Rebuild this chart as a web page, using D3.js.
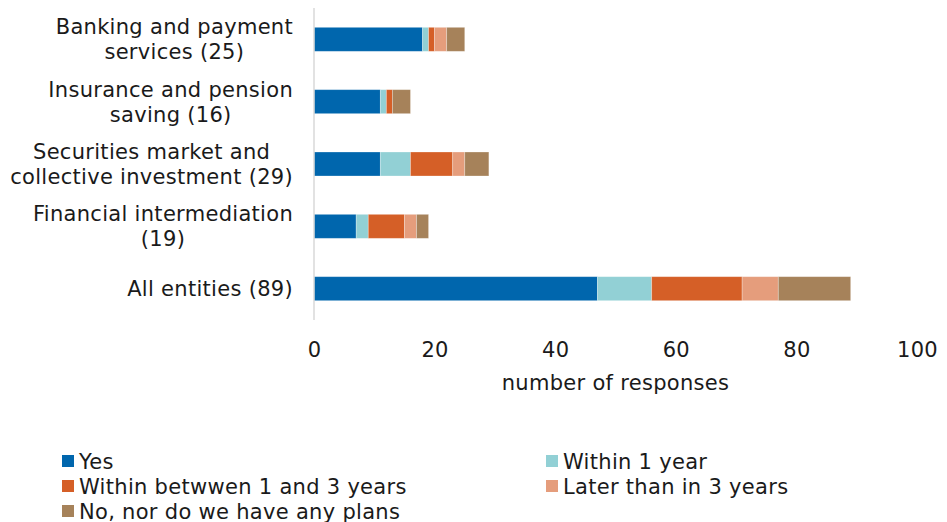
<!DOCTYPE html>
<html>
<head>
<meta charset="utf-8">
<script src="https://cdn.jsdelivr.net/npm/d3@7"></script>
<style>
  html, body { margin: 0; padding: 0; background: #fff; }
  svg text { font-family: "DejaVu Sans", Verdana, sans-serif; fill: #1a1a1a; letter-spacing: 0.3px; }
</style>
</head>
<body>
<svg id="chart" width="947" height="522"></svg>
<script>
// Survey responses by sector
const categories = [
  ["Banking and payment", "services (25)"],
  ["Insurance and pension", "saving (16)"],
  ["Securities market and", "collective investment (29)"],
  ["Financial intermediation", "(19)"],
  ["All entities (89)"]
];
const seriesNames = ["Yes", "Within 1 year", "Within betwwen 1 and 3 years", "Later than in 3 years", "No, nor do we have any plans"];
const yes        = [18, 11, 11, 7, 47];
const within1    = [1, 1, 5, 2, 9];
const within1to3 = [1, 1, 7, 6, 15];
const later3     = [2, 0, 2, 2, 6];
const noPlans    = [3, 3, 4, 2, 12];
const xTicks = [0, 20, 40, 60, 80, 100];
const xTitle = "number of responses";

const colors = ["#0066ad", "#92d0d5", "#d55f27", "#e59d7c", "#a6825a"];
const seriesValues = [yes, within1, within1to3, later3, noPlans];

const rows = categories.map((c, i) => {
  const r = { idx: i };
  seriesNames.forEach((s, j) => { r[s] = seriesValues[j][i]; });
  return r;
});

const svg = d3.select("#chart");
const fontSize = 21;
const plot = { left: 314, right: 917, top: 8, bottom: 320 };

const x = d3.scaleLinear().domain([0, 100]).range([plot.left, plot.right]);
const y = d3.scaleBand().domain(d3.range(categories.length)).range([plot.top, plot.bottom]).paddingInner(0.615).paddingOuter(0.31);

const stack = d3.stack().keys(seriesNames)(rows);

svg.append("g").selectAll("g").data(stack).join("g")
  .attr("fill", (d, i) => colors[i])
  .selectAll("rect").data(d => d).join("rect")
  .attr("x", d => x(d[0]))
  .attr("y", d => y(d.data.idx))
  .attr("width", d => Math.max(0, x(d[1]) - x(d[0])))
  .attr("height", y.bandwidth())
  .attr("stroke", "#ffffff")
  .attr("stroke-opacity", 0.35)
  .attr("stroke-width", 0.8);

// vertical category axis line
svg.append("line")
  .attr("x1", plot.left).attr("x2", plot.left)
  .attr("y1", plot.top).attr("y2", plot.bottom)
  .attr("stroke", "#d9d9d9").attr("stroke-width", 1.5);

// x axis tick labels (no line)
const xAxis = d3.axisBottom(x).tickValues(xTicks).tickSize(0).tickPadding(0);
const gx = svg.append("g").attr("transform", `translate(0,${plot.bottom + 37})`).call(xAxis);
gx.select(".domain").remove();
gx.selectAll("text").attr("font-size", fontSize).attr("dy", 0).attr("font-family", "DejaVu Sans, sans-serif");

svg.append("text")
  .attr("x", (plot.left + plot.right) / 2).attr("y", 390)
  .attr("text-anchor", "middle").attr("font-size", fontSize)
  .text(xTitle);

// category labels: block right-aligned, lines centred in block
const lineH = 25;
categories.forEach((lines, i) => {
  const g = svg.append("g");
  const cy = y(i) + y.bandwidth() / 2;
  const texts = lines.map((t, k) => g.append("text")
    .attr("font-size", fontSize)
    .attr("text-anchor", "middle")
    .attr("y", cy + (k - (lines.length - 1) / 2) * lineH + 7.5)
    .text(t));
  const maxW = d3.max(texts, t => t.node().getComputedTextLength());
  const cx = 293 - maxW / 2;
  texts.forEach(t => t.attr("x", cx));
});

// legend
const legendPos = [[62, 461], [546, 461], [62, 486], [546, 486], [62, 511]];
seriesNames.forEach((s, i) => {
  const [lx, ly] = legendPos[i];
  svg.append("rect").attr("x", lx).attr("y", ly - 6).attr("width", 12).attr("height", 12).attr("fill", colors[i]);
  svg.append("text").attr("x", lx + 17).attr("y", ly + 7.5).attr("font-size", fontSize).text(s);
});
</script>
</body>
</html>
